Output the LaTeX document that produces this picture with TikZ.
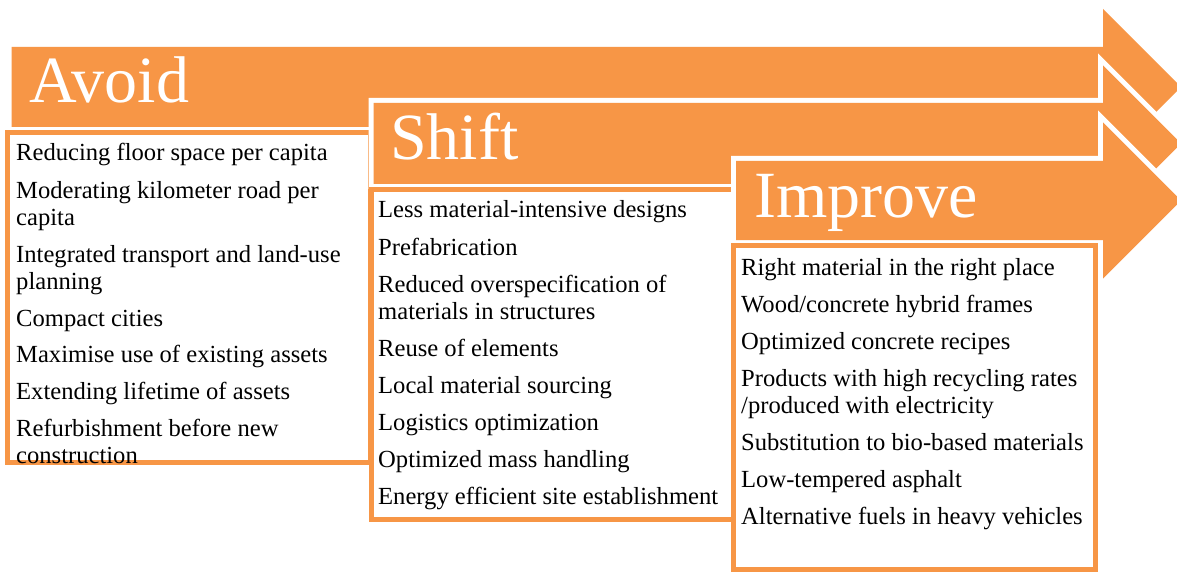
\documentclass[tikz,border=0pt]{standalone}
\usepackage{fontspec}
\setmainfont{Liberation Serif}
\definecolor{accent}{HTML}{F79646}
\newcommand\procarrow[3]{% left, top, bottom
  (#1,#2) -- (1103,#2) -- (1103,{(#2+#3)/2-78}) -- (1181,{(#2+#3)/2}) --
  (1103,{(#2+#3)/2+78}) -- (1103,#3) -- (#1,#3) -- cycle}
\tikzset{
  outline/.style={draw=white, fill=white, line width=10pt, line join=miter},
  band/.style={fill=accent},
  listbox/.style={draw=accent, fill=white, line width=5pt},
  title/.style={text=white, font=\fontsize{66}{66}\selectfont, anchor=base west, inner sep=0pt},
  item/.style={text=black, font=\fontsize{24.6}{27}\selectfont, anchor=base west, inner sep=0pt}
}
\begin{document}
\begin{tikzpicture}[x=1pt,y=-1pt]
\useasboundingbox[fill=white] (0,0) rectangle (1177,572);
% Avoid
\path[outline] \procarrow{11.5}{47}{127};
\fill[band] \procarrow{11.5}{47}{127};
\node[title] (avoid) at (29,103) {Avoid};
\draw[listbox] (7.5,132.5) rectangle (370.5,462.5);
\node[item] (a1) at (16,161) {Reducing floor space per capita};
\node[item] (a2) at (16,198) {Moderating kilometer road per};
\node[item] (a2b) at (16,225) {capita};
\node[item] (a3) at (16,262) {Integrated transport and land-use};
\node[item] (a3b) at (16,289) {planning};
\node[item] (a4) at (16,326) {Compact cities};
\node[item] (a5) at (16,362) {Maximise use of existing assets};
\node[item] (a6) at (16,399) {Extending lifetime of assets};
\node[item] (a7) at (16,436) {Refurbishment before new};
\node[item] (a7b) at (16,463) {construction};
% Shift
\path[outline] \procarrow{373.5}{103}{184};
\fill[band] \procarrow{373.5}{103}{184};
\node[title] (shift) at (390,160) {Shift};
\draw[listbox] (371.5,189.5) rectangle (733.5,519.5);
\node[item] (s1) at (378,218) {Less material-intensive designs};
\node[item] (s2) at (378,255) {Prefabrication};
\node[item] (s3) at (378,292) {Reduced overspecification of};
\node[item] (s3b) at (378,319) {materials in structures};
\node[item] (s4) at (378,356) {Reuse of elements};
\node[item] (s5) at (378,393) {Local material sourcing};
\node[item] (s6) at (378,430) {Logistics optimization};
\node[item] (s7) at (378,467) {Optimized mass handling};
\node[item] (s8) at (378,504) {Energy efficient site establishment};
% Improve
\path[outline] \procarrow{736}{161}{240};
\fill[band] \procarrow{736}{161}{240};
\node[title] (improve) at (754,217) {Improve};
\draw[listbox] (733.5,245.5) rectangle (1095.5,569.5);
\node[item] (i1) at (741,275) {Right material in the right place};
\node[item] (i2) at (741,312) {Wood/concrete hybrid frames};
\node[item] (i3) at (741,349) {Optimized concrete recipes};
\node[item] (i4) at (741,386) {Products with high recycling rates};
\node[item] (i4b) at (741,413) {/produced with electricity};
\node[item] (i5) at (741,450) {Substitution to bio-based materials};
\node[item] (i6) at (741,487) {Low-tempered asphalt};
\node[item] (i7) at (741,524) {Alternative fuels in heavy vehicles};
\end{tikzpicture}
\end{document}
